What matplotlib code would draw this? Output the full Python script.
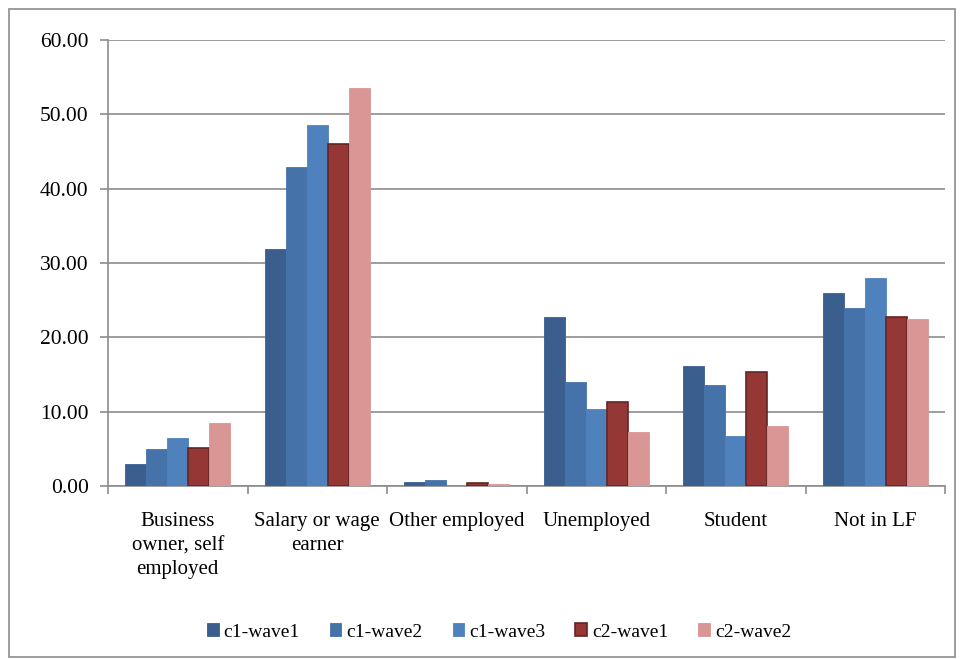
import matplotlib
matplotlib.use("Agg")
import matplotlib.pyplot as plt
from matplotlib.patches import Rectangle
import numpy as np

categories = ["Business\nowner, self\nemployed", "Salary or wage\nearner", "Other employed",
              "Unemployed", "Student", "Not in LF"]
series_names = ["c1-wave1", "c1-wave2", "c1-wave3", "c2-wave1", "c2-wave2"]
c1_wave1 = [2.95, 31.9, 0.5, 22.7, 16.2, 26.0]
c1_wave2 = [4.95, 42.9, 0.85, 14.0, 13.6, 23.9]
c1_wave3 = [6.4, 48.5, 0.0, 10.35, 6.75, 28.0]
c2_wave1 = [5.15, 46.0, 0.4, 11.25, 15.3, 22.7]
c2_wave2 = [8.45, 53.6, 0.27, 7.2, 8.1, 22.5]
yticks = [0, 10, 20, 30, 40, 50, 60]

series = [c1_wave1, c1_wave2, c1_wave3, c2_wave1, c2_wave2]
colors = ["#3A5F8F", "#4573A9", "#4F81BD", "#953735", "#D99694"]
edges = ["#3A5F8F", "#4573A9", "#4F81BD", "#632523", "#D99694"]

plt.rcParams['font.family'] = ['Liberation Serif', 'DejaVu Serif']

W, H = 964, 659
fig = plt.figure(figsize=(W / 100, H / 100), dpi=100)
ax = fig.add_axes([108 / W, 1 - 486 / H, (945 - 108) / W, (486 - 40) / H])

n = len(categories)
x = np.arange(n)
bw = 0.15
for i, (vals, c, e) in enumerate(zip(series, colors, edges)):
    lw = 1.2 if i == 3 else 0.6
    ax.bar(x + (i - 2) * bw, vals, width=bw, color=c, edgecolor=e, linewidth=lw,
           label=series_names[i], zorder=3)

ax.set_xlim(-0.5, n - 0.5)
ax.set_ylim(0, 60)
ax.set_yticks(yticks)
ax.set_yticklabels([f"{v:.2f}" for v in yticks], fontsize=15.5)
ax.yaxis.grid(True, color="#8C8C8C", linewidth=1.2, zorder=0)
ax.set_axisbelow(True)
for s in ["top", "right"]:
    ax.spines[s].set_visible(False)
for s in ["left", "bottom"]:
    ax.spines[s].set_color("#8C8C8C")
    ax.spines[s].set_linewidth(1.2)

ax.set_xticks(np.arange(n + 1) - 0.5, minor=False)
ax.set_xticklabels([])
ax.set_xticks(x, minor=True)
ax.set_xticklabels(categories, minor=True, fontsize=15, linespacing=1.36, va="top")
ax.tick_params(axis="x", which="minor", length=0, pad=19)
ax.tick_params(axis="x", which="major", length=6, color="#8C8C8C", width=1.2, direction="out")
ax.tick_params(axis="y", length=6, color="#8C8C8C", width=1.2, pad=8)
ax.tick_params(axis="both", labelcolor="black")

leg = fig.legend(loc="center", bbox_to_anchor=(499 / W, 1 - 632 / H), ncol=5, frameon=False,
                 fontsize=14, handlelength=0.6, handleheight=0.6, handletextpad=0.25,
                 columnspacing=1.55)

fig.patches.append(Rectangle((9 / W, 1 - 657 / H), (955 - 9) / W, (657 - 9) / H,
                             transform=fig.transFigure, fill=False,
                             edgecolor="#8C8C8C", linewidth=1.2))

fig.savefig("out.png", dpi=100)
